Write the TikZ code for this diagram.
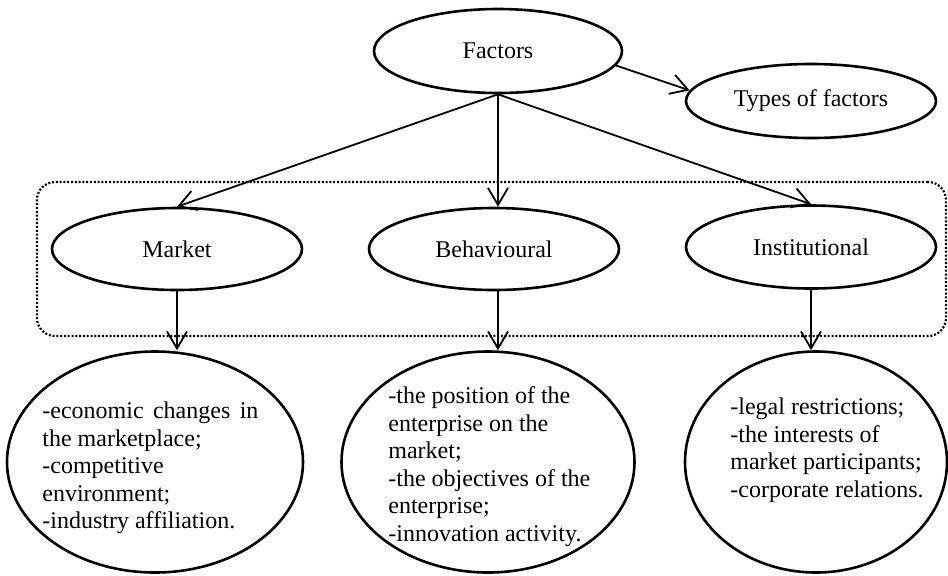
\documentclass[tikz,border=0pt]{standalone}
\usepackage{fontspec}
\setmainfont{Liberation Serif}
\usetikzlibrary{shapes.geometric,arrows.meta}
\begin{document}
\begin{tikzpicture}[x=0.5pt,y=-0.5pt,
  oval/.style={ellipse, draw, line width=1.3pt, fill=white, inner sep=0pt,
               font=\fontsize{12}{13.75}\selectfont},
  small/.style={oval, minimum width=125pt, minimum height=41pt},
  big/.style={oval, minimum height=110.5pt},
  note/.style={anchor=north west, inner sep=0pt, align=left,
               font=\fontsize{12}{13.75}\selectfont},
  link/.style={line width=0.9pt, -{Straight Barb[length=8.5pt,width=10pt]}},
  group/.style={draw, rounded corners=9pt, line width=1.1pt,
                dash pattern=on 1pt off 0.9pt, inner sep=0pt,
                minimum width=454.5pt, minimum height=77pt}
]
\useasboundingbox (0,0) rectangle (948,575);

% dotted frame around the three factor groups
\node[group] (grp) at (491.5,259) {};

% top level
\node[small, minimum width=124pt, minimum height=42pt] (fac) at (498,51) {Factors};
\node[small, minimum height=37pt] (types) at (811,101) {Types of factors};

% factor groups
\node[small] (mk)   at (177,249) {Market};
\node[small] (beh)  at (494,249) {Behavioural};
\node[small, minimum height=41.5pt] (inst) at (811,247) {Institutional};

% detail ellipses
\node[big, minimum width=148pt]   (mt) at (155,462) {};
\node[big, minimum width=146.5pt] (bt) at (488,462) {};
\node[big, minimum width=131pt]   (it) at (816,462) {};

\node[note] (mtx) at (42,401.6) {\hbox to 108pt{-economic\hfill changes\hfill in}\\
  the marketplace;\\ -competitive\\ environment;\\ -industry affiliation.};
\node[note] (btx) at (388,386.6) {-the position of the\\ enterprise on the\\ market;\\
  -the objectives of the\\ enterprise;\\ -innovation activity.};
\node[note] (itx) at (730,397.6) {-legal restrictions;\\ -the interests of\\
  market participants;\\ -corporate relations.};

% connectors
\draw[link] (fac.south) -- (mk.north);
\draw[link] (fac.south) -- (fac.south |- beh.north);
\draw[link] (fac.south) -- (inst.north);
\draw[link] (fac.-7) -- (types.175);
\draw[link] (mk.south) -- (mk.south |- mt.north);
\draw[link] (fac.south |- beh.south) -- (fac.south |- bt.north);
\draw[link] (inst.south) -- (inst.south |- it.north);
\end{tikzpicture}
\end{document}
